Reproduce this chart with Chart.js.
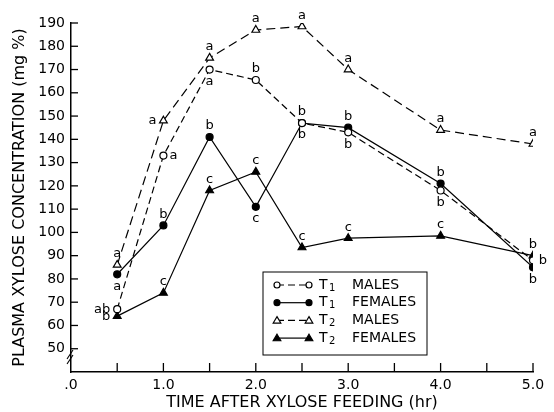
<!DOCTYPE html>
<html lang="en">
<head>
  <meta charset="UTF-8">
  <title>Plasma xylose concentration</title>
  <script src="https://cdn.jsdelivr.net/npm/chart.js"></script>
  <style>
    html, body { margin: 0; padding: 0; background: #fff; }
    canvas { display: block; }
  </style>
</head>
<body>
  <canvas id="xyloseChart" width="554" height="412"></canvas>

  <script>
    // hours after feeding
    const times = [0.5, 1.0, 1.5, 2.0, 2.5, 3.0, 4.0, 5.0];

    // plasma xylose, mg %
    const t1Males   = [67, 133, 170, 165.5, 147, 143, 118, 88];
    const t1Females = [82, 103, 141, 111, 147, 145, 121, 85];
    const t2Males   = [86, 148, 175, 187, 188.5, 170, 144, 138];
    const t2Females = [64, 74, 118, 126, 93.5, 97.5, 98.5, 90];

    // significance letters
    const t1MalesSig   = ['ab', 'a', 'a', 'b', 'b', 'b', 'b', 'b'];
    const t1FemalesSig = ['a', 'b', 'b', 'c', 'b', 'b', 'b', 'b'];
    const t2MalesSig   = ['a', 'a', 'a', 'a', 'a', 'a', 'a', 'a'];
    const t2FemalesSig = ['b', 'c', 'c', 'c', 'c', 'c', 'c', 'b'];

    const seriesNames = ['MALES', 'FEMALES', 'MALES', 'FEMALES'];
    const groupNames = ['1', '1', '2', '2'];

    // where each letter sits: a = above, b = below, l = left, r = right
    const t1MalesPos   = ['l', 'r', 'b', 'a', 'b', 'b', 'b', 'r'];
    const t1FemalesPos = ['b', 'a', 'a', 'b', 'a', 'a', 'a', 'b'];
    const t2MalesPos   = ['a', 'l', 'a', 'a', 'a', 'a', 'a', 'a'];
    const t2FemalesPos = ['l', 'a', 'a', 'a', 'a', 'a', 'a', 'a'];

    const FONT = '"DejaVu Sans", sans-serif';

    function pts(values) {
      return values.map((v, i) => ({ x: times[i], y: v }));
    }

    function series(label, values, sig, pos, style, filled, dash) {
      return {
        label: label,
        data: pts(values),
        sig: sig,
        sigPos: pos,
        dashed: dash.length > 0,
        borderColor: '#000',
        borderWidth: 1.2,
        borderDash: dash,
        pointStyle: style,
        pointRadius: style === 'triangle' ? 4.5 : 3.5,
        pointBorderWidth: 1.2,
        pointBorderColor: '#000',
        pointBackgroundColor: filled ? '#000' : '#fff',
        tension: 0,
        fill: false
      };
    }

    function line(ctx, x1, y1, x2, y2) {
      ctx.beginPath();
      ctx.moveTo(x1, y1);
      ctx.lineTo(x2, y2);
      ctx.stroke();
    }

    function marker(ctx, ds, x, y) {
      ctx.save();
      ctx.setLineDash([]);
      ctx.lineWidth = 1.2;
      ctx.strokeStyle = '#000';
      ctx.fillStyle = ds.pointBackgroundColor;
      ctx.beginPath();
      if (ds.pointStyle === 'triangle') {
        const r = 3.8;
        ctx.moveTo(x, y - r);
        ctx.lineTo(x + r, y + r * 0.7);
        ctx.lineTo(x - r, y + r * 0.7);
        ctx.closePath();
      } else {
        ctx.arc(x, y, 3, 0, Math.PI * 2);
      }
      ctx.fill();
      ctx.stroke();
      ctx.restore();
    }

    const extras = {
      id: 'extras',
      afterDatasetsDraw(chart) {
        const ctx = chart.ctx;
        ctx.save();
        ctx.fillStyle = '#000';
        ctx.font = '13px ' + FONT;
        ctx.textAlign = 'center';
        ctx.textBaseline = 'middle';
        chart.data.datasets.forEach((ds, di) => {
          const meta = chart.getDatasetMeta(di);
          meta.data.forEach((pt, i) => {
            const p = ds.sigPos[i];
            let x = pt.x, y = pt.y;
            if (p === 'a') y -= 11;
            else if (p === 'b') y += 12;
            else if (p === 'l') x -= ds.sig[i].length > 1 ? 15 : 11;
            else if (p === 'r') x += 10;
            ctx.fillText(ds.sig[i], x, y);
          });
        });
        ctx.restore();
      },
      afterDraw(chart) {
        const ctx = chart.ctx;
        const xs = chart.scales.x, ys = chart.scales.y;
        const ca = chart.chartArea;
        ctx.save();
        ctx.strokeStyle = '#000';
        ctx.lineWidth = 1.3;

        // inward tick marks
        xs.ticks.forEach(t => {
          if (t.value === 0) return;
          const px = xs.getPixelForValue(t.value);
          line(ctx, px, ca.bottom, px, ca.bottom - 9);
        });
        ys.ticks.forEach(t => {
          if (t.value < 50) return;
          const py = ys.getPixelForValue(t.value);
          line(ctx, ca.left, py, ca.left + 7, py);
        });

        // axis break
        const by = ys.getPixelForValue(46);
        ctx.lineWidth = 1.1;
        line(ctx, ca.left - 4, by + 1, ca.left + 2, by - 8);
        line(ctx, ca.left - 4, by + 6, ca.left + 2, by - 3);

        // legend box
        const lx = ca.left + 192, ly = ca.top + 249, lw = 164, lh = 83;
        ctx.lineWidth = 1;
        ctx.strokeRect(lx, ly, lw, lh);
        chart.data.datasets.forEach((ds, i) => {
          const ry = ly + 13 + i * 17.7;
          ctx.save();
          ctx.lineWidth = 1.2;
          ctx.setLineDash(ds.dashed ? [7, 4] : []);
          line(ctx, lx + 14, ry, lx + 46, ry);
          ctx.restore();
          marker(ctx, ds, lx + 14, ry);
          marker(ctx, ds, lx + 46, ry);
          ctx.fillStyle = '#000';
          ctx.textBaseline = 'middle';
          ctx.textAlign = 'left';
          ctx.font = '14px ' + FONT;
          ctx.fillText('T', lx + 56, ry);
          ctx.font = '10px ' + FONT;
          ctx.fillText(groupNames[i], lx + 66, ry + 3);
          ctx.font = '14px ' + FONT;
          ctx.fillText(seriesNames[i], lx + 89, ry);
        });
        ctx.restore();
      }
    };

    new Chart(document.getElementById('xyloseChart'), {
      type: 'line',
      data: {
        datasets: [
          series('T1 MALES', t1Males, t1MalesSig, t1MalesPos, 'circle', false, [7, 4]),
          series('T1 FEMALES', t1Females, t1FemalesSig, t1FemalesPos, 'circle', true, []),
          series('T2 MALES', t2Males, t2MalesSig, t2MalesPos, 'triangle', false, [9, 5]),
          series('T2 FEMALES', t2Females, t2FemalesSig, t2FemalesPos, 'triangle', true, [])
        ]
      },
      options: {
        responsive: false,
        animation: false,
        layout: { padding: { top: 23, right: 21, left: 0, bottom: 0 } },
        plugins: {
          legend: { display: false },
          tooltip: { enabled: false }
        },
        scales: {
          x: {
            type: 'linear',
            min: 0,
            max: 5,
            afterFit(scale) { scale.height = 40; },
            grid: { display: true, drawOnChartArea: false, drawTicks: false },
            border: { display: true, color: '#000', width: 1.5 },
            ticks: {
              stepSize: 0.5,
              padding: 5,
              color: '#000',
              font: { family: FONT, size: 14 },
              callback: v => {
                if (v === 0) return '.0';
                return Number.isInteger(v) ? v.toFixed(1) : '';
              }
            },
            title: {
              display: true,
              text: 'TIME AFTER XYLOSE FEEDING (hr)',
              color: '#000',
              font: { family: FONT, size: 16 },
              padding: { top: 0, bottom: 0 }
            }
          },
          y: {
            min: 40,
            max: 190,
            afterFit(scale) { scale.width = 71; },
            grid: { display: true, drawOnChartArea: false, drawTicks: false },
            border: { display: true, color: '#000', width: 1.5 },
            ticks: {
              stepSize: 10,
              padding: 6,
              color: '#000',
              font: { family: FONT, size: 14 },
              callback: v => (v < 50 ? '' : v)
            },
            title: {
              display: true,
              text: 'PLASMA XYLOSE CONCENTRATION (mg %)',
              color: '#000',
              font: { family: FONT, size: 16 },
              padding: { top: 10, bottom: 0 }
            }
          }
        }
      },
      plugins: [extras]
    });
  </script>
</body>
</html>
